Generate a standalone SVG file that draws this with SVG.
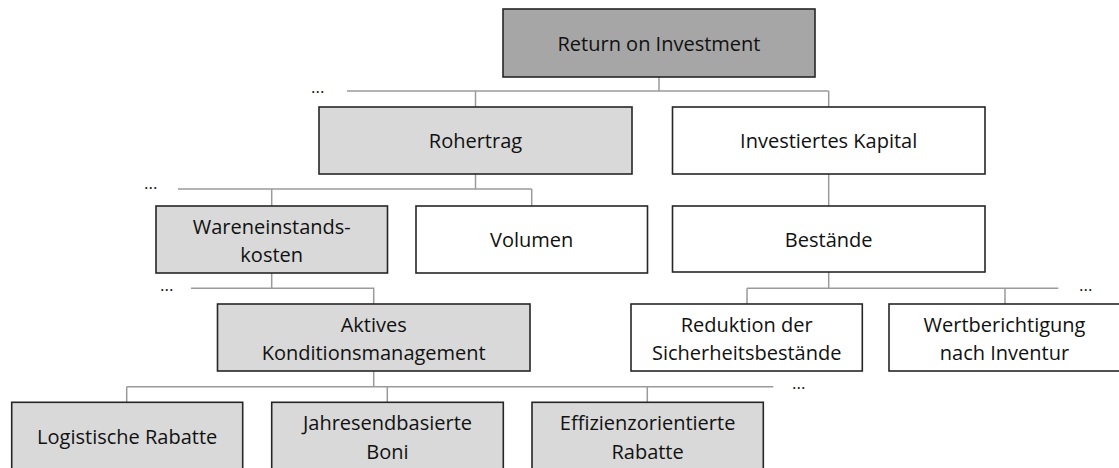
<svg xmlns="http://www.w3.org/2000/svg" width="1119" height="468" viewBox="0 0 1119 468">
  <style>
    .box { stroke: #262626; stroke-width: 1.6; }
    .dark { fill: #a6a6a6; }
    .light { fill: #d9d9d9; }
    .plain { fill: #ffffff; }
    .lbl { font-family: "Open Sans", "Liberation Sans", sans-serif; font-size: 20px; fill: #111111; text-anchor: middle; }
    .more { font-family: "Open Sans", "Liberation Sans", sans-serif; font-size: 17px; fill: #111111; }
    .link { fill: none; stroke: #9a9a9a; stroke-width: 1.5; }
  </style>
  <rect width="1119" height="468" fill="#ffffff"/>

  <!-- connectors -->
  <g id="connectors" class="link">
    <!-- Return on Investment -> Rohertrag, Investiertes Kapital -->
    <path d="M659 77 V91 M347 91 H828.7 M475.5 91 V107 M828.7 91 V107"/>
    <!-- Rohertrag -> Wareneinstandskosten, Volumen -->
    <path d="M475.5 174 V189 M178 189 H531.7 M271.7 189 V206 M531.7 189 V206"/>
    <!-- Investiertes Kapital -> Bestände -->
    <path d="M828.7 174 V206"/>
    <!-- Wareneinstandskosten -> Aktives Konditionsmanagement -->
    <path d="M271.7 273 V288.3 M191 288.3 H373.7 V304"/>
    <!-- Bestände -> Reduktion, Wertberichtigung -->
    <path d="M828.7 272 V288.3 M747 288.3 H1058.3 M747 288.3 V304 M1005 288.3 V304"/>
    <!-- Aktives Konditionsmanagement -> Rabatte/Boni -->
    <path d="M373.7 371 V386.7 M126.7 386.7 H773.3 M126.7 386.7 V402.3 M387.3 386.7 V402.3 M647.3 386.7 V402.3"/>
  </g>

  <!-- continuation marks -->
  <g id="continuations" class="more">
    <text x="311" y="93">...</text>
    <text x="144" y="189">...</text>
    <text x="160" y="291">...</text>
    <text x="1079" y="291">...</text>
    <text x="792" y="389">...</text>
  </g>

  <g id="roi">
    <rect class="box dark" x="503" y="9" width="312" height="68"/>
    <text class="lbl" x="659" y="50.5">Return on Investment</text>
  </g>

  <g id="rohertrag">
    <rect class="box light" x="319" y="107" width="313" height="67"/>
    <text class="lbl" x="475.5" y="148">Rohertrag</text>
  </g>

  <g id="investiertes-kapital">
    <rect class="box plain" x="672.5" y="107" width="312.5" height="67"/>
    <text class="lbl" x="828.7" y="148">Investiertes Kapital</text>
  </g>

  <g id="wareneinstandskosten">
    <rect class="box light" x="156" y="206" width="231.5" height="67"/>
    <text class="lbl" x="271.7" y="233.7">Wareneinstands-</text>
    <text class="lbl" x="271.7" y="262.2">kosten</text>
  </g>

  <g id="volumen">
    <rect class="box plain" x="416" y="206" width="231.5" height="67"/>
    <text class="lbl" x="531.7" y="247">Volumen</text>
  </g>

  <g id="bestaende">
    <rect class="box plain" x="672.5" y="206" width="312.5" height="66"/>
    <text class="lbl" x="828.7" y="246.5">Bestände</text>
  </g>

  <g id="konditionsmanagement">
    <rect class="box light" x="217.5" y="304" width="312.5" height="67"/>
    <text class="lbl" x="373.7" y="331.7">Aktives</text>
    <text class="lbl" x="373.7" y="360.2">Konditionsmanagement</text>
  </g>

  <g id="sicherheitsbestaende">
    <rect class="box plain" x="631" y="304" width="231.3" height="67"/>
    <text class="lbl" x="746.7" y="331.7">Reduktion der</text>
    <text class="lbl" x="746.7" y="360.2">Sicherheitsbestände</text>
  </g>

  <g id="wertberichtigung">
    <rect class="box plain" x="889" y="304" width="232" height="67"/>
    <text class="lbl" x="1004.5" y="331.7">Wertberichtigung</text>
    <text class="lbl" x="1004.5" y="360.2">nach Inventur</text>
  </g>

  <g id="logistische-rabatte">
    <rect class="box light" x="11.7" y="402.3" width="231" height="68"/>
    <text class="lbl" x="127.2" y="443.5">Logistische Rabatte</text>
  </g>

  <g id="jahresendboni">
    <rect class="box light" x="271.7" y="402.3" width="231.6" height="68"/>
    <text class="lbl" x="387.5" y="430">Jahresendbasierte</text>
    <text class="lbl" x="387.5" y="458.5">Boni</text>
  </g>

  <g id="effizienzrabatte">
    <rect class="box light" x="532" y="402.3" width="231.3" height="68"/>
    <text class="lbl" x="647.6" y="430">Effizienzorientierte</text>
    <text class="lbl" x="647.6" y="458.5">Rabatte</text>
  </g>
</svg>
